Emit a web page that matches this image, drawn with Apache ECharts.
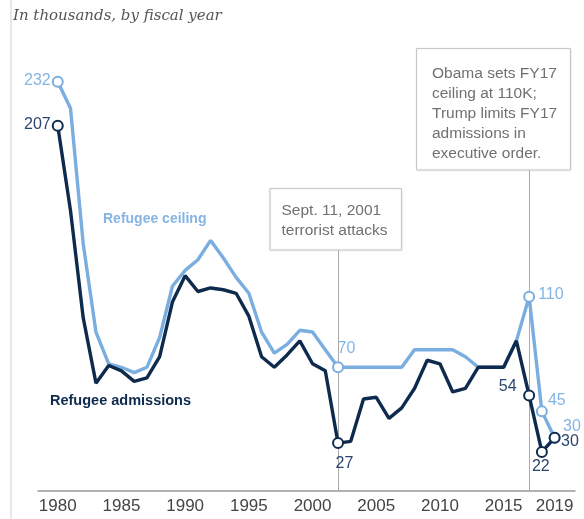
<!DOCTYPE html>
<html><head><meta charset="utf-8">
<script src="https://cdn.jsdelivr.net/npm/echarts@6/dist/echarts.min.js"></script>
<style>html,body{margin:0;padding:0;background:#fff}#c{width:584px;height:519px}</style>
</head><body><div id="c"></div>
<script>
// ---- data ----
const years = [1980,1981,1982,1983,1984,1985,1986,1987,1988,1989,1990,1991,1992,1993,1994,1995,1996,1997,1998,1999,2000,2001,2002,2003,2004,2005,2006,2007,2008,2009,2010,2011,2012,2013,2014,2015,2016,2017,2018,2019];
const ceiling = [232,217,140,90,72,70,67,70,87,116,125,131,142,132,121,112,90,78,83,91,90,80,70,70,70,70,70,70,80,80,80,80,76,70,70,70,85,110,45,30];
const admissions = [207,159,98,61,71,68,62,64,76,107,122,113,115,114,112,99,76,70,77,85,72,68,27,28,52,53,41,47,58,74,72,56,58,70,70,70,85,54,22,30];
const tickYears = [1980,1985,1990,1995,2000,2005,2010,2015,2019];
const labeledCeilingYears = [1980,2002,2017,2018,2019];
const labeledAdmissionYears = [1980,2002,2017,2018,2019];
const annotationYears = [2002,2017];
const annotationTexts = ['Sept. 11, 2001\nterrorist attacks','Obama sets FY17\nceiling at 110K;\nTrump limits FY17\nadmissions in\nexecutive order.'];
const titleText = 'In thousands, by fiscal year';
const seriesNames = ['Refugee ceiling','Refugee admissions'];

// ---- styling ----
const LIGHT = '#7aaee0', LIGHT_TXT = '#86b4e4';
const DARK = '#0e2a4d', DARK_TXT = '#2a4670';
const labelPos = {
  ceiling: {1980:[-1,4.5,'right'],2002:[5.5,-12.5,'left'],2017:[15,4,'left'],2018:[12,-4.5,'left'],2019:[14.5,-5,'left']},
  admissions: {1980:[-1,4.5,'right'],2002:[3.5,26.5,'left'],2017:[-6.5,-2.5,'right'],2018:[-4,20.5,'left'],2019:[12.5,10,'left']}
};
const annoTop = [136.6, 182];
const FONT = '"Liberation Sans", Arial, sans-serif';

function build(vals, labeled, pos, txtColor){
  return years.map((y,i)=>{
    const item = {value:[y, vals[i]]};
    if (labeled.indexOf(y) >= 0){
      const p = pos[y];
      item.symbolSize = 10;
      item.label = {show:true, position:[p[0],p[1]], align:p[2], verticalAlign:'middle',
        color:txtColor, fontSize:16, fontFamily:FONT, formatter:String(vals[i])};
    } else {
      item.symbolSize = 0;
    }
    return item;
  });
}

const chart = echarts.init(document.getElementById('c'), null, {renderer:'canvas'});
chart.setOption({
  animation:false,
  grid:{left:38,right:9,top:50,bottom:28.3,containLabel:false,outerBoundsMode:'none'},
  xAxis:{type:'value',min:1978.45,max:2020.6,
    axisLine:{show:true,onZero:false,lineStyle:{color:'#999',width:1.5}},
    axisTick:{show:false},splitLine:{show:false},
    axisLabel:{customValues:tickYears,formatter:v=>String(v),color:'#444',fontSize:17,fontFamily:FONT,margin:7}},
  yAxis:{type:'value',min:0,max:250,show:false,splitLine:{show:false}},
  series:[
    {name:seriesNames[0],type:'line',z:2,data:build(ceiling,labeledCeilingYears,labelPos.ceiling,LIGHT_TXT),
     symbol:'circle',showAllSymbol:true,lineStyle:{color:LIGHT,width:3.4},
     itemStyle:{color:'#fff',borderColor:LIGHT,borderWidth:2},
     label:{show:false},emphasis:{disabled:true},
     markLine:{silent:true,symbol:'none',label:{show:false},z:1,
       lineStyle:{color:'#aaa',width:1,type:'solid'},
       data:annotationYears.map((y,i)=>[{coord:[y,annoTop[i]]},{coord:[y,0]}])}},
    {name:seriesNames[1],type:'line',z:3,data:build(admissions,labeledAdmissionYears,labelPos.admissions,DARK_TXT),
     symbol:'circle',showAllSymbol:true,lineStyle:{color:DARK,width:3.4},
     itemStyle:{color:'#fff',borderColor:DARK,borderWidth:2},
     label:{show:false},emphasis:{disabled:true}}
  ],
  graphic:[
    {type:'rect',left:10,top:0,shape:{width:2,height:519},style:{fill:'#e8e8e8'},silent:true},
    {type:'text',left:13,top:9,style:{text:titleText,fill:'#555',font:'italic 15px "DejaVu Serif", Georgia, serif'}},
    {type:'text',left:103,top:212,style:{text:seriesNames[0],fill:LIGHT_TXT,font:'bold 14px '+FONT}},
    {type:'text',left:50,top:393,style:{text:seriesNames[1],fill:DARK,font:'bold 14.5px '+FONT}},
    {type:'rect',shape:{x:270,y:188.5,width:131.5,height:61.5},style:{fill:'#fff',stroke:'#c8c8c8',lineWidth:1,shadowBlur:2,shadowColor:'rgba(0,0,0,0.12)'},z:10},
    {type:'text',x:281.5,y:200.7,style:{text:annotationTexts[0],fill:'#707070',font:'15.5px '+FONT,lineHeight:20,verticalAlign:'top'},z:11},
    {type:'rect',shape:{x:416.5,y:48.5,width:154,height:121.5},style:{fill:'#fff',stroke:'#c8c8c8',lineWidth:1,shadowBlur:2,shadowColor:'rgba(0,0,0,0.12)'},z:10},
    {type:'text',x:432,y:63.3,style:{text:annotationTexts[1],fill:'#707070',font:'15.5px '+FONT,lineHeight:20.2,verticalAlign:'top'},z:11}
  ]
});
</script></body></html>
